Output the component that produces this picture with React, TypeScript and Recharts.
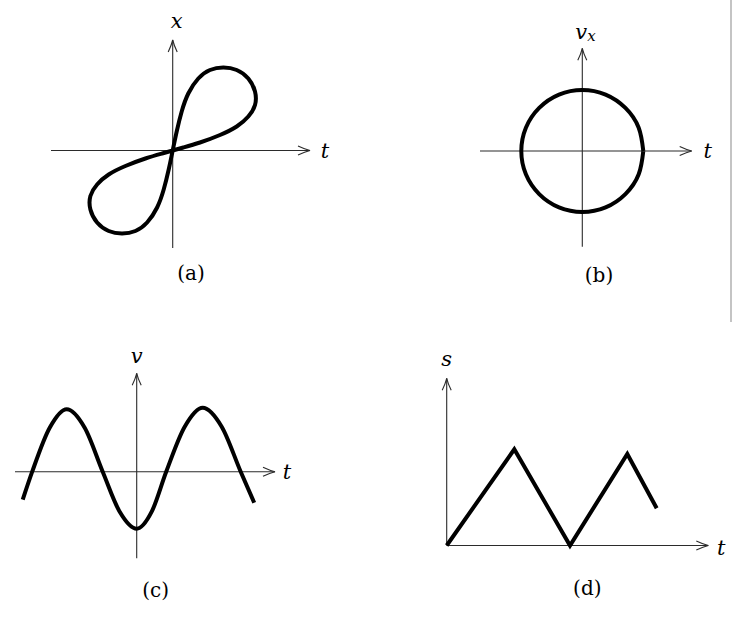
import React from 'react'
import { Line, LineChart, ReferenceLine, XAxis, YAxis } from 'recharts'

// one data unit = 10px of the picture, origin at the crossing of the axes

// (a) figure-eight x(t)
const loopT = [0, 0.4, 0.9, 1.56, 2.56, 3.73, 5.06, 6.4, 7.56, 8.23, 8.23, 7.56, 6.4, 4.73, 2.73, 1.06, 0,
  -1.06, -2.73, -4.73, -6.4, -7.56, -8.23, -8.23, -7.56, -6.4, -5.06, -3.73, -2.56, -1.56, -0.9, -0.4, 0]
const loopX = [0, 1.9, 3.9, 5.7, 7.2, 8.05, 8.3, 8.05, 7.2, 5.9, 4.55, 3.4, 2.4, 1.55, 0.8, 0.3, 0,
  -0.3, -0.8, -1.55, -2.4, -3.4, -4.55, -5.9, -7.2, -8.05, -8.3, -8.05, -7.2, -5.7, -3.9, -1.9, 0]

// (b) circle v_x(t)
const ringT = [6.1, 5.64, 4.31, 2.33, 0, -2.33, -4.31, -5.64, -6.1, -5.64, -4.31, -2.33, 0, 2.33, 4.31, 5.64, 6.1]
const ringV = [0, 2.33, 4.31, 5.64, 6.1, 5.64, 4.31, 2.33, 0, -2.33, -4.31, -5.64, -6.1, -5.64, -4.31, -2.33, 0]

// (c) wave v(t)
const waveT = [-11.4, -10.45, -8.7, -7.0, -5.2, -3.4, -1.7, 0, 1.5, 2.95, 4.8, 6.6, 8.5, 10.4, 11.75]
const waveV = [-2.8, 0, 4.4, 6.25, 4.4, 0, -4.0, -5.7, -4.0, 0, 4.5, 6.4, 4.5, 0, -3.1]

// (d) zigzag s(t)
const sawT = [0, 6.76, 12.33, 18.06, 21.0]
const sawS = [0, 9.62, 0, 9.15, 3.72]

const zip = (xs: number[], ys: number[]) => xs.map((x, i) => ({ x, y: ys[i] }))

const PX = 10
const serif = 'DejaVu Serif'
const axisColor = '#2b2b2b'

type Tag = { text: React.ReactNode; dx: number; dy: number; anchor?: 'start' | 'middle' }

const arrowShape = (tag: Tag) => (p: any) => {
  const { x1, y1, x2, y2 } = p
  const a = Math.atan2(y2 - y1, x2 - x1)
  const c = Math.cos(a)
  const s = Math.sin(a)
  const L = 12
  const W = 4.5
  const bx = x2 - L * c
  const by = y2 - L * s
  const qx = x2 - L * 0.4 * c
  const qy = y2 - L * 0.4 * s
  return (
    <g>
      <line x1={x1} y1={y1} x2={x2} y2={y2} stroke={axisColor} strokeWidth={1.1} />
      <path
        d={`M${bx - W * s},${by + W * c} Q${qx - W * 0.25 * s},${qy + W * 0.25 * c} ${x2},${y2} Q${qx + W * 0.25 * s},${qy - W * 0.25 * c} ${bx + W * s},${by - W * c}`}
        fill="none"
        stroke={axisColor}
        strokeWidth={1.1}
      />
      <text
        x={x2 + tag.dx}
        y={y2 + tag.dy}
        textAnchor={tag.anchor ?? 'middle'}
        dominantBaseline="central"
        fontFamily={serif}
        fontStyle="italic"
        fontSize={21}
        fill="#000"
      >
        {tag.text}
      </text>
    </g>
  )
}

type PanelProps = {
  left: number
  top: number
  width: number
  height: number
  ox: number
  oy: number
  data: { x: number; y: number }[]
  curve: 'natural' | 'monotone' | 'linear'
  hAxis: [number, number]
  vAxis: [number, number]
  hTag: Tag
  vTag: Tag
  caption: string
  cx: number
  cy: number
}

const Panel = (p: PanelProps) => (
  <>
    <div style={{ position: 'absolute', left: p.left, top: p.top }}>
      <LineChart width={p.width} height={p.height} data={p.data} margin={{ top: 0, right: 0, bottom: 0, left: 0 }}>
        <XAxis
          type="number"
          dataKey="x"
          domain={[-p.ox / PX, (p.width - p.ox) / PX]}
          allowDataOverflow
          hide
        />
        <YAxis type="number" domain={[-(p.height - p.oy) / PX, p.oy / PX]} allowDataOverflow hide />
        <ReferenceLine
          segment={[{ x: p.hAxis[0], y: 0 }, { x: p.hAxis[1], y: 0 }]}
          shape={arrowShape(p.hTag)}
          ifOverflow="visible"
        />
        <ReferenceLine
          segment={[{ x: 0, y: p.vAxis[0] }, { x: 0, y: p.vAxis[1] }]}
          shape={arrowShape(p.vTag)}
          ifOverflow="visible"
        />
        <Line
          dataKey="y"
          type={p.curve}
          stroke="#000"
          strokeWidth={4}
          dot={false}
          activeDot={false}
          isAnimationActive={false}
        />
      </LineChart>
    </div>
    <span
      style={{
        position: 'absolute',
        left: p.cx,
        top: p.cy,
        transform: 'translate(-50%, -50%)',
        fontFamily: serif,
        fontSize: 20,
        lineHeight: 1,
        color: '#000',
      }}
    >
      {p.caption}
    </span>
  </>
)

const tTag = (dx: number): Tag => ({ text: 't', dx, dy: 0 })

export default function App() {
  return (
    <div style={{ position: 'absolute', left: 0, top: 0, width: 732, height: 618, background: '#fff' }}>
      <Panel
        left={30} top={0} width={320} height={265} ox={142.7} oy={150.5}
        data={zip(loopT, loopX)} curve="natural"
        hAxis={[-12.17, 13.73]} vAxis={[-9.75, 11.05]}
        hTag={tTag(15)} vTag={{ text: 'x', dx: 4, dy: -19 }}
        caption="(a)" cx={191} cy={273}
      />
      <Panel
        left={460} top={0} width={268} height={265} ox={122.3} oy={151}
        data={zip(ringT, ringV)} curve="natural"
        hAxis={[-10.23, 10.94]} vAxis={[-9.57, 10.27]}
        hTag={tTag(16)}
        vTag={{
          text: (
            <>
              <tspan>v</tspan>
              <tspan dy={4} fontSize={15}>x</tspan>
            </>
          ),
          dx: -7,
          dy: -16,
          anchor: 'start',
        }}
        caption="(b)" cx={599} cy={275}
      />
      <Panel
        left={5} top={330} width={305} height={240} ox={131.7} oy={141.7}
        data={zip(waveT, waveV)} curve="monotone"
        hAxis={[-12.17, 13.83]} vAxis={[-8.66, 9.84]}
        hTag={tTag(12)} vTag={{ text: 'v', dx: 0, dy: -17 }}
        caption="(c)" cx={155.7} cy={590}
      />
      <Panel
        left={420} top={330} width={311} height={240} ox={26.7} oy={215.5}
        data={zip(sawT, sawS)} curve="linear"
        hAxis={[0, 26.16]} vAxis={[0, 16.72]}
        hTag={{ text: 't', dx: 13, dy: 2 }} vTag={{ text: 's', dx: 0, dy: -19 }}
        caption="(d)" cx={587.3} cy={588}
      />
      <div style={{ position: 'absolute', left: 730, top: 0, width: 1.5, height: 322, background: '#c4c4c4' }} />
    </div>
  )
}
